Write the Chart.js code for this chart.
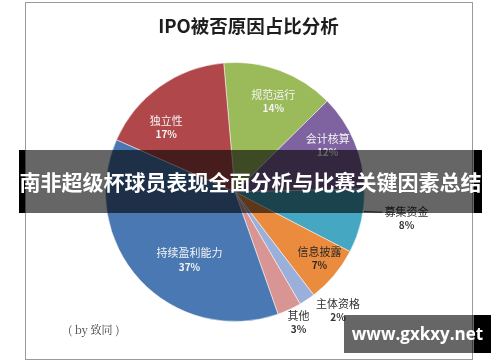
<!DOCTYPE html>
<html lang="zh">
<head>
    <meta charset="UTF-8">
    <title>IPO被否原因占比分析</title>
    <script src="https://cdn.jsdelivr.net/npm/chart.js"></script>
    <style>
        body {
            margin: 0;
            padding: 0;
            width: 500px;
            height: 362px;
            overflow: hidden;
            background: #fff;
            font-family: "Noto Sans CJK SC", sans-serif;
        }
        #wrap {
            position: relative;
            width: 500px;
            height: 362px;
        }
        #frame {
            position: absolute;
            left: 25px;
            top: 2px;
            width: 446px;
            height: 356px;
            border: 1px solid #9a9a9a;
        }
        #pieChart {
            position: absolute;
            left: 0;
            top: 0;
        }
        #title {
            position: absolute;
            left: 0;
            width: 497px;
            top: 12px;
            text-align: center;
            font-size: 18.5px;
            font-weight: bold;
            color: #1e1e1e;
        }
        #note {
            position: absolute;
            left: 68px;
            top: 321px;
            font-family: "Noto Serif CJK SC", "DejaVu Serif", serif;
            font-size: 11px;
            color: #444;
        }
        .bar {
            position: absolute;
            background: rgba(0, 0, 0, 0.6);
        }
        .edge {
            position: absolute;
            background: #000;
        }
        #banner {
            left: 19px;
            top: 150px;
            width: 463px;
            height: 63px;
        }
        #bannerText {
            position: absolute;
            left: 19px;
            top: 150px;
            width: 463px;
            height: 63px;
            line-height: 62px;
            text-align: center;
            color: #fff;
            font-size: 21px;
            font-weight: bold;
            white-space: nowrap;
        }
        #mark {
            left: 344px;
            top: 315px;
            width: 147px;
            height: 38px;
        }
        #markText {
            position: absolute;
            left: 344px;
            top: 315px;
            width: 147px;
            height: 38px;
            line-height: 38px;
            text-align: center;
            color: #fff;
            font-family: "Open Sans", sans-serif;
            font-size: 17px;
            font-weight: bold;
        }
    </style>
</head>
<body>
<div id="wrap">
    <div id="frame"></div>
    <canvas id="pieChart" width="500" height="362"></canvas>
    <div id="title">IPO被否原因占比分析</div>
    <div id="note">( by 致同 )</div>
    <div class="bar" id="banner"></div>
    <div class="edge" style="left:19px;top:150px;width:6px;height:63px"></div>
    <div class="edge" style="left:474px;top:150px;width:8px;height:63px"></div>
    <div id="bannerText">南非超级杯球员表现全面分析与比赛关键因素总结</div>
    <div class="bar" id="mark"></div>
    <div class="edge" style="left:474px;top:315px;width:17px;height:38px"></div>
    <div id="markText">www.gxkxy.net</div>
</div>

<script>
    // 数据
    const reasons = ['规范运行', '会计核算', '募集资金', '信息披露', '主体资格', '其他', '持续盈利能力', '独立性'];
    const shares = [14, 12, 8, 7, 2, 3, 37, 17];
    const sliceColors = ['#9BBA59', '#7F63A1', '#45A7C1', '#EA8B3D', '#9AAFD9', '#D99594', '#4A78B2', '#B0474A'];

    // 标签位置 (半径比例, 角度偏移)
    const labelStyle = [
        { f: 0.76, da: 2.7, color: '#f4f4f4' },
        { f: 0.80, da: -3.6, color: '#f4f4f4' },
        { f: 1.34, da: -4.3, color: '#333', leader: true },
        { f: 0.83, da: -1.8, color: '#2a2a2a' },
        { f: 1.21, da: -7.3, color: '#333' },
        { f: 1.12, da: -1.2, color: '#333' },
        { f: 0.63, da: -13.3, color: '#f4f4f4' },
        { f: 0.73, da: -11.1, color: '#f4f4f4' }
    ];

    const pieLabels = {
        id: 'pieLabels',
        afterDatasetsDraw(chart) {
            const ctx = chart.ctx;
            const meta = chart.getDatasetMeta(0);
            ctx.save();
            ctx.textAlign = 'center';
            ctx.textBaseline = 'middle';
            meta.data.forEach((arc, i) => {
                const p = arc.getProps(['x', 'y', 'startAngle', 'endAngle', 'outerRadius'], true);
                const s = labelStyle[i];
                const mid = (p.startAngle + p.endAngle) / 2 + s.da * Math.PI / 180;
                const lx = p.x + Math.cos(mid) * p.outerRadius * s.f;
                const ly = p.y + Math.sin(mid) * p.outerRadius * s.f;
                ctx.font = '11px "Noto Sans CJK SC", sans-serif';
                const w = ctx.measureText(reasons[i]).width;
                if (s.leader) {
                    const ex = p.x + Math.cos(mid) * p.outerRadius;
                    const ey = p.y + Math.sin(mid) * p.outerRadius;
                    ctx.strokeStyle = '#333';
                    ctx.lineWidth = 1;
                    ctx.beginPath();
                    ctx.moveTo(ex + 1, ey);
                    ctx.lineTo(lx - w / 2 - 2, ly - 6);
                    ctx.stroke();
                }
                ctx.fillStyle = s.color;
                ctx.fillText(reasons[i], lx, ly - 6.5);
                ctx.font = 'bold 10px "Noto Sans CJK SC", sans-serif';
                ctx.fillText(shares[i] + '%', lx, ly + 7);
            });
            ctx.restore();
        }
    };

    const pieChart = new Chart(document.getElementById('pieChart').getContext('2d'), {
        type: 'pie',
        data: {
            labels: reasons,
            datasets: [{
                data: shares,
                backgroundColor: sliceColors,
                borderColor: 'rgba(255, 255, 255, 0.5)',
                borderWidth: 1
            }]
        },
        options: {
            responsive: false,
            animation: false,
            devicePixelRatio: 1,
            rotation: -5,
            layout: {
                padding: { left: 104, right: 134, top: 62, bottom: 40 }
            },
            plugins: {
                legend: { display: false },
                tooltip: { enabled: false }
            }
        },
        plugins: [pieLabels]
    });
</script>
</body>
</html>
